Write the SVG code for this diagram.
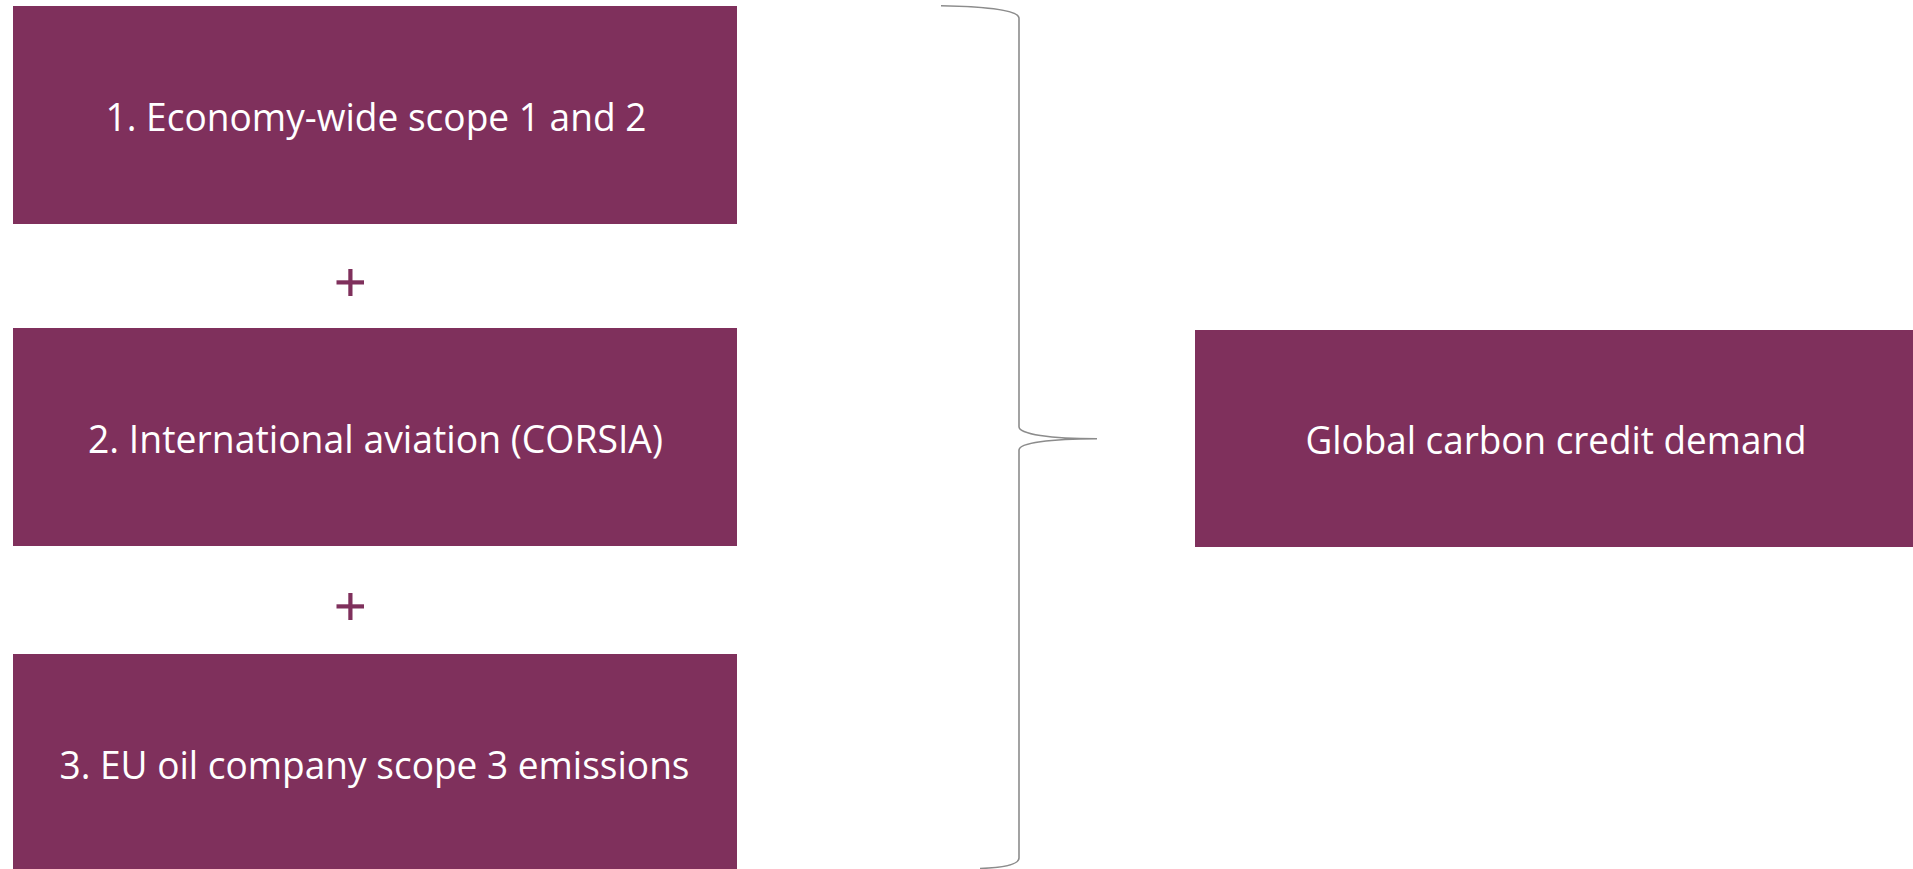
<svg xmlns="http://www.w3.org/2000/svg" width="1913" height="869" viewBox="0 0 1913 869">
  <style>
    .box { fill: #7F305C; }
    .lbl { fill: #FFFFFF; font-family: "Open Sans", "Liberation Sans", sans-serif; font-size: 38px; text-anchor: middle; }
    .plus { fill: #7F305C; }
    .brace { fill: none; stroke: #8C8C8C; stroke-width: 1.6; }
  </style>
  <rect width="1913" height="869" fill="#FFFFFF"/>
  <g id="node-economy">
    <rect class="box" x="13" y="6" width="724" height="218"/>
    <text class="lbl" x="376" y="131" textLength="541" lengthAdjust="spacingAndGlyphs">1. Economy-wide scope 1 and 2</text>
  </g>
  <g id="plus-1">
    <rect class="plus" x="336.5" y="280.3" width="27.5" height="4.2"/>
    <rect class="plus" x="348.3" y="269" width="4.2" height="27"/>
  </g>
  <g id="node-aviation">
    <rect class="box" x="13" y="328" width="724" height="218"/>
    <text class="lbl" x="375.5" y="453" textLength="575" lengthAdjust="spacingAndGlyphs">2. International aviation (CORSIA)</text>
  </g>
  <g id="plus-2">
    <rect class="plus" x="336.5" y="604.3" width="27.5" height="4.2"/>
    <rect class="plus" x="348.3" y="593" width="4.2" height="27"/>
  </g>
  <g id="node-oil">
    <rect class="box" x="13" y="654" width="724" height="218"/>
    <text class="lbl" x="374.5" y="779" textLength="630" lengthAdjust="spacingAndGlyphs">3. EU oil company scope 3 emissions</text>
  </g>
  <g id="node-demand">
    <rect class="box" x="1195" y="330" width="722" height="217"/>
    <text class="lbl" x="1556" y="454" textLength="501" lengthAdjust="spacingAndGlyphs">Global carbon credit demand</text>
  </g>
  <g id="connectors">
    <path class="brace" d="M941,5.7 C992,6.5 1019,11 1019,18.3 L1019,426.7 C1019,434 1050,438.7 1097,438.7 C1050,438.7 1019,443 1019,450 L1019,858 C1019,864.5 1004,867.5 980,868.5"/>
  </g>
</svg>
